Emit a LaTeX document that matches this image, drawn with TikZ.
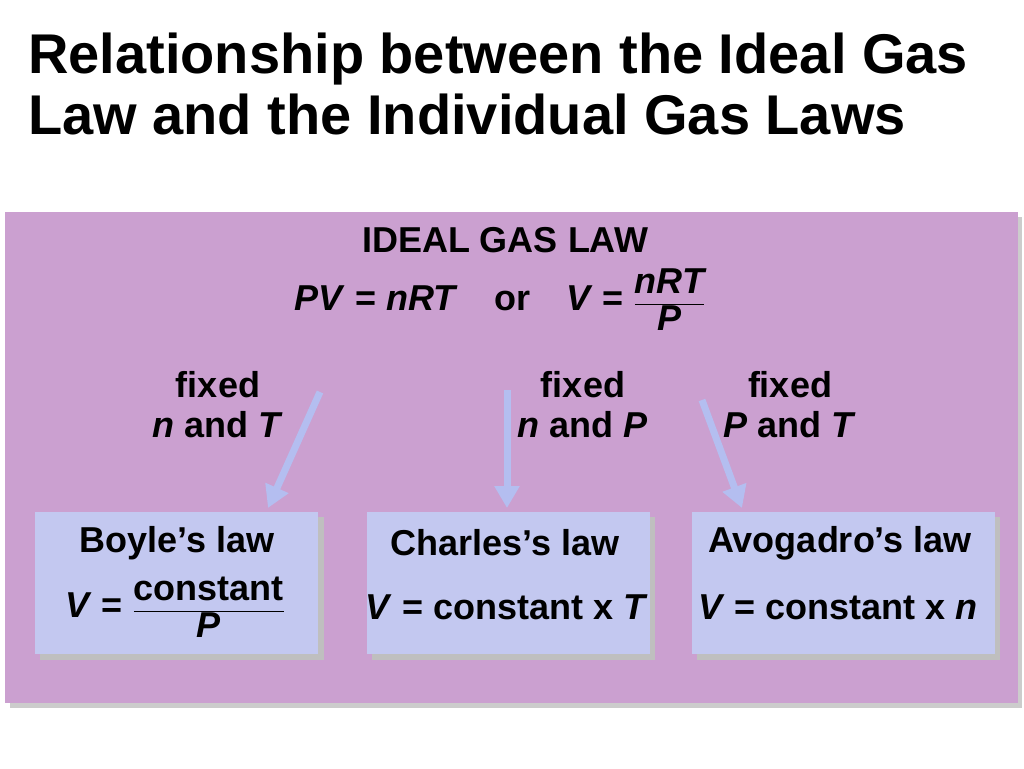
\documentclass[tikz,border=0pt]{standalone}
\usepackage{fontspec}
\setmainfont{Liberation Sans}
\usetikzlibrary{arrows.meta}
\definecolor{pinkbg}{HTML}{CBA0D0}
\definecolor{boxbl}{HTML}{C3C8F0}
\definecolor{arr}{HTML}{B4BEF0}
\newcommand{\myfr}[2]{$\displaystyle\frac{\mbox{#1}}{\mbox{#2}}$}
\newcommand{\apos}{{\char"27}}
\begin{document}
\begin{tikzpicture}[x=1pt,y=-1pt,
  lbl/.style={font=\fontsize{36}{40}\selectfont\bfseries,align=center,inner sep=0},
  law/.style={draw=none,fill=boxbl,minimum width=283,minimum height=142,anchor=north west,inner sep=0},
  shad/.style={fill=black!25},
  fat/.style={draw=arr,line width=7pt,-{Triangle[length=22pt,width=24pt]}}]
\useasboundingbox (0,0) rectangle (1024,768);
\fill[white] (0,0) rectangle (1024,768);
\node[anchor=north west,align=left,inner sep=0,font=\fontsize{56}{61}\selectfont\bfseries] (title) at (28,33) {Relationship between the Ideal Gas\\Law and the Individual Gas Laws};
\fill[black!20] (10,217) rectangle (1022,708);
\node[anchor=north west,fill=pinkbg,minimum width=1013,minimum height=491,inner sep=0] (panel) at (5,212) {};
\node[lbl] (igl) at (505,240) {IDEAL GAS LAW};
\node[lbl] (eq) at (500,300) {\textit{PV} = \textit{nRT}\quad or\quad \textit{V} = \myfr{\bfseries\itshape nRT}{\bfseries\itshape P}};
\node[lbl] (f1) at (218,405) {fixed\\\textit{n} and \textit{T}};
\node[lbl] (f2) at (583,405) {fixed\\\textit{n} and \textit{P}};
\node[lbl] (f3) at (790,405) {fixed\\\textit{P} and \textit{T}};
\fill[shad] (40,517) rectangle (324,660);
\fill[shad] (372,517) rectangle (655,660);
\fill[shad] (697,517) rectangle (1000,660);
\node[law] (boyle) at (35,512) {};
\node[law] (charles) at (367,512) {};
\node[law,minimum width=303] (avo) at (692,512) {};
\node[lbl] at (177,543) {Boyle\apos s law};
\node[lbl] at (175,607) {\textit{V} = \myfr{\bfseries constant}{\bfseries\itshape P}};
\node[lbl] at (505,543) {Charles\apos s law};
\node[lbl] at (507,607) {\textit{V} = constant x \textit{T}};
\node[lbl] at (840,543) {Avogadro\apos s law};
\node[lbl] at (838,607) {\textit{V} = constant x \textit{n}};
\coordinate (a1) at (320,392); \coordinate (b1) at (268,508);
\coordinate (a2) at (507,390); \coordinate (b2) at (507,508);
\coordinate (a3) at (702,400); \coordinate (b3) at (742,508);
\draw[fat] (a1) -- (b1);
\draw[fat] (a2) -- (b2);
\draw[fat] (a3) -- (b3);
\end{tikzpicture}
\end{document}
